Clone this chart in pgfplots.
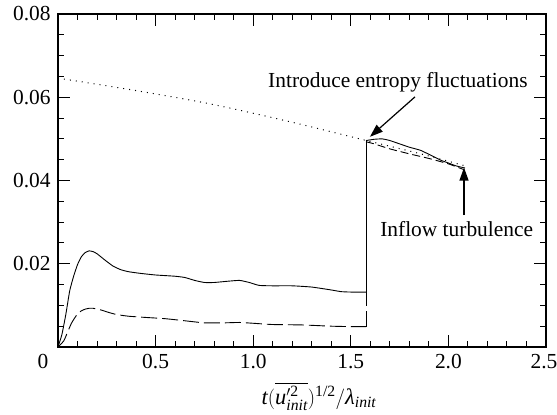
\documentclass[border=0pt]{standalone}
\usepackage{amsmath}
\usepackage{fontspec}
\setmainfont{Liberation Serif}
\usepackage{pgfplots}
\pgfplotsset{compat=1.18}
\usetikzlibrary{arrows.meta}
\begin{document}
\fontsize{21.5}{26}\selectfont
\begin{tikzpicture}
\useasboundingbox (0,0) rectangle (557bp,415bp);
\begin{axis}[
  at={(58bp,68bp)}, anchor=south west,
  width=488bp, height=333bp, scale only axis,
  xmin=0, xmax=2.5, ymin=0, ymax=0.08,
  scaled y ticks=false, scaled x ticks=false,
  xtick={0,0.5,1,1.5,2,2.5},
  xticklabels={\makebox[0pt]{\kern-30bp 0},0.5,1.0,1.5,2.0,\makebox[0pt]{\kern-4bp 2.5}},
  ytick={0,0.02,0.04,0.06,0.08},
  yticklabels={,0.02,0.04,0.06,0.08},
  minor x tick num=4, minor y tick num=3,
  tick align=inside,
  major tick length=12bp, minor tick length=6bp,
  tick style={line width=1bp, black},
  axis line style={line width=1.2bp},
  /pgf/number format/assume math mode=true,
  clip=false,
  xlabel={\fontsize{22.5}{27}\selectfont$\textit{t}(\overline{\textit{u}'^{\text{2}}_{\textit{init}}})^{\text{1/2}}/\textit{λ}_{\textit{init}}$},
  xlabel style={at={(axis description cs:0.5,0)}, anchor=base, yshift=-57bp, xshift=17bp},
]
% solid
\addplot[black, line width=0.9bp, smooth, tension=0.3] coordinates {
(0,0) (0.02,0.003) (0.04,0.0078) (0.06,0.0135) (0.08,0.0170) (0.10,0.0198)
(0.12,0.0217) (0.14,0.0227) (0.16,0.0231) (0.18,0.0229) (0.20,0.0224)
(0.24,0.0209) (0.28,0.0195) (0.32,0.0186) (0.36,0.0181) (0.42,0.0177)
(0.50,0.0173) (0.60,0.0170) (0.65,0.0167) (0.70,0.0160) (0.75,0.0155)
(0.80,0.0155) (0.87,0.0158) (0.93,0.0160) (0.98,0.0155) (1.03,0.0148)
(1.10,0.0147) (1.20,0.0147) (1.30,0.0144) (1.40,0.0137) (1.45,0.0133)
(1.50,0.0132) (1.578,0.0132)};
\addplot[black, line width=0.9bp] coordinates {(1.578,0.0132) (1.578,0.0496)};
\addplot[black, line width=0.9bp, smooth, tension=0.3] coordinates {
(1.578,0.0496) (1.62,0.0499) (1.66,0.0500) (1.70,0.0496)
(1.80,0.0480) (1.86,0.0472) (1.96,0.0449) (2.00,0.0442) (2.04,0.0435) (2.085,0.0430)};
% dashed
\addplot[black, line width=0.9bp, dash pattern=on 16bp off 5bp, smooth, tension=0.3] coordinates {
(0,0) (0.03,0.0015) (0.05,0.0037) (0.07,0.0058) (0.096,0.0077) (0.12,0.0087)
(0.14,0.0091) (0.16,0.0093) (0.18,0.0093) (0.22,0.0089) (0.26,0.0083)
(0.30,0.0078) (0.36,0.0074) (0.45,0.0071) (0.55,0.0068) (0.65,0.0063)
(0.75,0.0058) (0.85,0.0058) (0.93,0.0059) (1.00,0.0057) (1.10,0.0054)
(1.25,0.0053) (1.40,0.0050) (1.50,0.0049) (1.578,0.0049)};
\addplot[black, line width=0.9bp, dash pattern=on 16bp off 5bp] coordinates {
(1.578,0.0049) (1.578,0.0160)};
\addplot[black, line width=0.9bp, dash pattern=on 8bp off 4bp, smooth, tension=0.3] coordinates {
(1.578,0.0493) (1.62,0.0488) (1.70,0.0476) (1.80,0.0464) (1.90,0.0453)
(2.00,0.0440) (2.08,0.0426)};
% dotted
\addplot[black, line width=1bp, dash pattern=on 1bp off 5bp, smooth] coordinates {
(0,0.0646) (0.4,0.0616) (0.78,0.0584) (1.19,0.0541) (1.58,0.0496)
(1.85,0.0465) (2.08,0.0436)};
% annotations
\node[anchor=base west, inner sep=0pt] at (axis cs:1.076,0.0624) {Introduce entropy fluctuations};
\draw[line width=1.2bp, -{Triangle[length=13bp, width=9bp]}] (axis cs:1.829,0.0601) -- (axis cs:1.598,0.0505);
\node[anchor=base west, inner sep=0pt] at (axis cs:1.650,0.0265) {Inflow turbulence};
\draw[line width=1.2bp, -{Triangle[length=13bp, width=9bp]}] (axis cs:2.08,0.0317) -- (axis cs:2.08,0.0431);
\end{axis}
\end{tikzpicture}
\end{document}
